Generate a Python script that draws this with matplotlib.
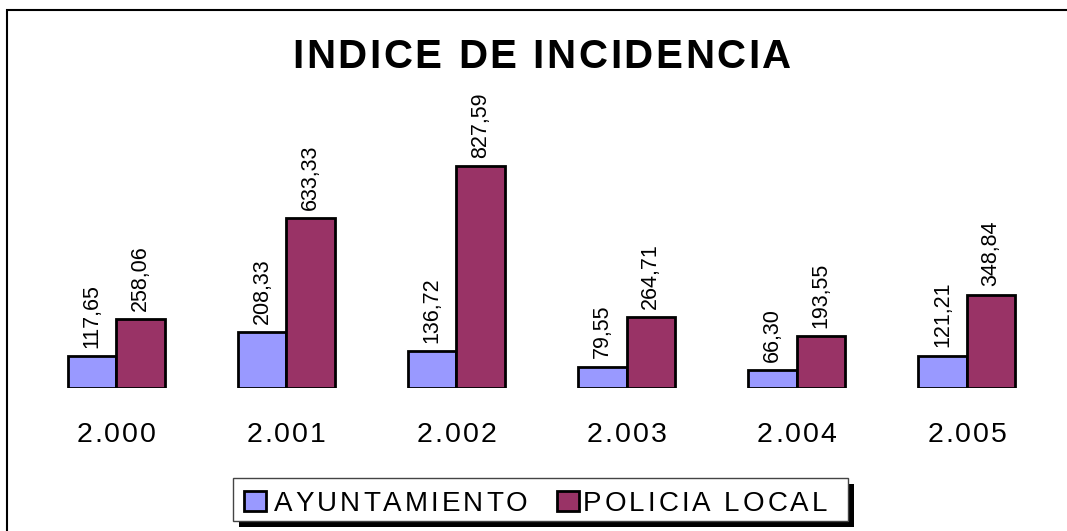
import matplotlib.pyplot as plt
import numpy as np
from matplotlib.patches import Rectangle
from matplotlib.font_manager import FontProperties, findfont
from matplotlib.ft2font import FT2Font

# Data
years = ['2.000', '2.001', '2.002', '2.003', '2.004', '2.005']
ayuntamiento = [117.65, 208.33, 136.72, 79.55, 66.30, 121.21]
policia_local = [258.06, 633.33, 827.59, 264.71, 193.55, 348.84]
series_names = ['AYUNTAMIENTO', 'POLICIA LOCAL']
colors = ['#9999FF', '#993366']

FAMILY = 'Liberation Sans'
plt.rcParams['font.family'] = [FAMILY, 'DejaVu Sans']

W, H = 1067, 531
DPI = 100
fig = plt.figure(figsize=(W / DPI, H / DPI), dpi=DPI)


def advances(s, size, weight='normal'):
    # glyph advance widths in pixels, so letters can be spaced out like the original
    font = FT2Font(findfont(FontProperties(family=FAMILY, weight=weight)))
    font.set_size(size, DPI)
    return [font.load_char(ord(ch)).linearHoriAdvance / 65536 for ch in s]


def tracked_text(x, y, s, size, tracking, weight='normal', ha='center'):
    # x, y in pixels from the top-left, y is the baseline
    adv = advances(s, size, weight)
    total = sum(adv) + tracking * (len(s) - 1)
    if ha == 'center':
        cx = x - total / 2
    else:
        cx = x
    for ch, a in zip(s, adv):
        if ch != ' ':
            fig.text(cx / W, 1 - y / H, ch, fontsize=size, fontweight=weight,
                     ha='left', va='baseline')
        cx += a + tracking
    return total


# axes placed in pixel terms: baseline at y=388, groups 170 px apart
left, right = 31, 1052
base_y = 388
ymax = 1000
px_per_unit = 0.268
top_y = base_y - ymax * px_per_unit
ax = fig.add_axes([left / W, (H - base_y) / H, (right - left) / W, (base_y - top_y) / H])

x = np.arange(len(years))
w = 0.285
b1 = ax.bar(x - w / 2, ayuntamiento, w, color=colors[0], edgecolor='black', linewidth=2)
b2 = ax.bar(x + w / 2, policia_local, w, color=colors[1], edgecolor='black', linewidth=2)

for bars, vals in [(b1, ayuntamiento), (b2, policia_local)]:
    for r, v in zip(bars, vals):
        ax.annotate(f'{v:.2f}'.replace('.', ','), (r.get_x() + r.get_width() / 2, v),
                    xytext=(0, 6), textcoords='offset points', rotation=90,
                    ha='center', va='bottom', fontsize=15.5, annotation_clip=False)

ax.set_xlim(-0.5, len(years) - 0.5)
ax.set_ylim(0, ymax)
ax.set_xticks([])
ax.set_yticks([])
for s in ax.spines.values():
    s.set_visible(False)

# category labels, letter-spaced, placed under each group
for xi, lab in zip(x, years):
    px = ax.transData.transform((xi, 0))[0]
    tracked_text(px, 442, lab, 20.5, 2.0)

# title
tracked_text(541.5, 68, 'INDICE DE INCIDENCIA', 29, 2.6, weight='bold')

# figure border (top/left visible, right/bottom cut off)
fig.patches.append(Rectangle((7 / W, -0.1), 1.2, 1 - 10 / H + 0.1, transform=fig.transFigure,
                             fill=False, edgecolor='black', linewidth=1.5))

# legend drawn by hand: black shadow, white box, square keys
lx0, lx1, ly0, ly1 = 233, 848, 478, 521
fig.patches.append(Rectangle(((lx0 + 6) / W, 1 - (ly1 + 6) / H), (lx1 - lx0) / W, (ly1 - ly0) / H,
                             transform=fig.transFigure, facecolor='black', linewidth=0))
fig.patches.append(Rectangle((lx0 / W, 1 - ly1 / H), (lx1 - lx0) / W, (ly1 - ly0) / H,
                             transform=fig.transFigure, facecolor='white',
                             edgecolor='#444444', linewidth=1))
key_x = [244, 557]
text_x = [274, 583]
for kx, tx, name, c in zip(key_x, text_x, series_names, colors):
    fig.patches.append(Rectangle((kx / W, 1 - 511 / H), 22 / W, 20 / H, transform=fig.transFigure,
                                 facecolor=c, edgecolor='black', linewidth=2))
    tracked_text(tx, 511, name, 20, 3.0, ha='left')

fig.savefig('out.png', dpi=DPI)
